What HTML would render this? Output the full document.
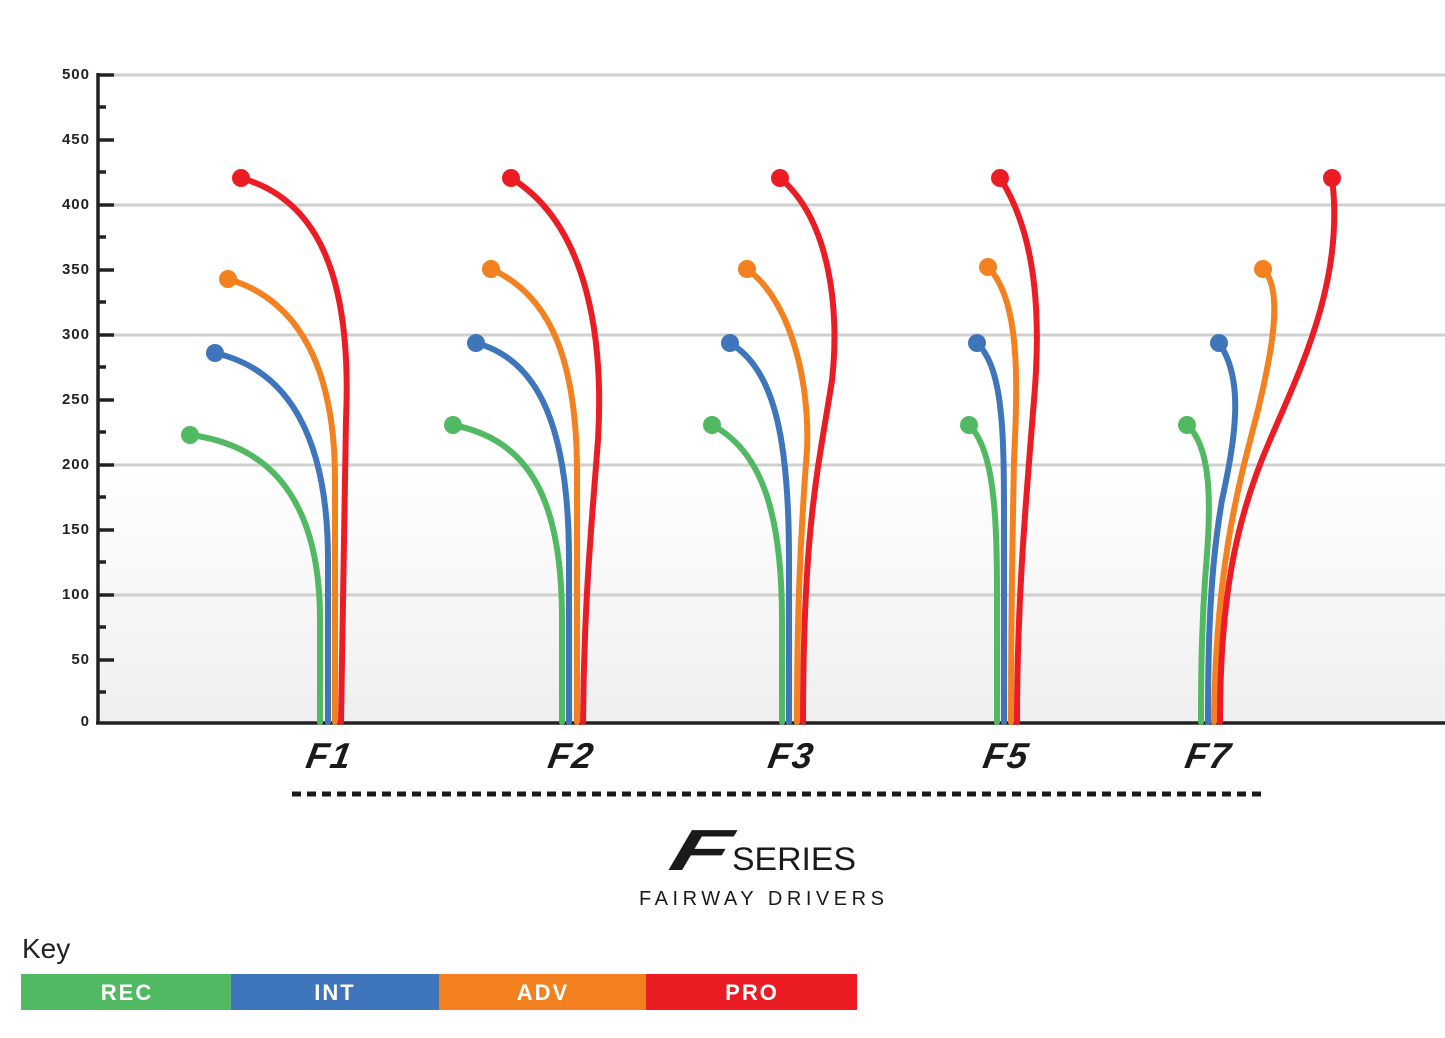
<!DOCTYPE html>
<html><head><style>
body{margin:0;background:#fff;}
svg{display:block;font-family:"Liberation Sans",sans-serif;}
</style></head><body>
<svg width="1445" height="1038" viewBox="0 0 1445 1038">
<defs><linearGradient id="bg" x1="0" y1="0" x2="0" y2="1">
<stop offset="0" stop-color="#fff"/><stop offset="0.6" stop-color="#fff"/><stop offset="1" stop-color="#efefef"/></linearGradient></defs>
<rect x="100" y="75" width="1345" height="647" fill="url(#bg)"/>
<g stroke="#cfcfcf" stroke-width="3">
<line x1="113" y1="75" x2="1445" y2="75"/><line x1="113" y1="205" x2="1445" y2="205"/>
<line x1="113" y1="335" x2="1445" y2="335"/><line x1="113" y1="465" x2="1445" y2="465"/>
<line x1="113" y1="595" x2="1445" y2="595"/></g>
<g stroke="#222" stroke-width="3.5">
<line x1="98" y1="73" x2="98" y2="724"/><line x1="96" y1="723" x2="1445" y2="723"/>
<line x1="98" y1="75" x2="114" y2="75"/><line x1="98" y1="140" x2="114" y2="140"/><line x1="98" y1="205" x2="114" y2="205"/><line x1="98" y1="270" x2="114" y2="270"/><line x1="98" y1="335" x2="114" y2="335"/><line x1="98" y1="400" x2="114" y2="400"/><line x1="98" y1="465" x2="114" y2="465"/><line x1="98" y1="530" x2="114" y2="530"/><line x1="98" y1="595" x2="114" y2="595"/><line x1="98" y1="660" x2="114" y2="660"/>
<line x1="98" y1="107" x2="106" y2="107"/><line x1="98" y1="172" x2="106" y2="172"/><line x1="98" y1="237" x2="106" y2="237"/><line x1="98" y1="302" x2="106" y2="302"/><line x1="98" y1="367" x2="106" y2="367"/><line x1="98" y1="432" x2="106" y2="432"/><line x1="98" y1="497" x2="106" y2="497"/><line x1="98" y1="562" x2="106" y2="562"/><line x1="98" y1="627" x2="106" y2="627"/><line x1="98" y1="692" x2="106" y2="692"/>
</g>
<g font-size="15" font-weight="bold" fill="#222" text-anchor="end" letter-spacing="1">
<text x="90" y="79">500</text><text x="90" y="144">450</text><text x="90" y="209">400</text><text x="90" y="274">350</text><text x="90" y="339">300</text><text x="90" y="404">250</text><text x="90" y="469">200</text><text x="90" y="534">150</text><text x="90" y="599">100</text><text x="90" y="664">50</text><text x="90" y="726">0</text></g>
<g fill="none" stroke-width="6" stroke-linecap="round">
<path stroke="#52b963" d="M190,435 C270,445 320,500 320,620 L320,722"/>
<path stroke="#3f75ba" d="M215,353 C290,370 328,440 328,560 L328,722"/>
<path stroke="#f38120" d="M228,279 C300,300 335,370 335,480 L335,722"/>
<path stroke="#ec1c24" d="M241,178 C320,200 352,280 346,420 L341,722"/>
<path stroke="#52b963" d="M453,425 C530,440 562,500 562,620 L562,722"/>
<path stroke="#3f75ba" d="M476,343 C540,360 569,430 569,560 L569,722"/>
<path stroke="#f38120" d="M491,269 C550,295 578,360 577,480 L577,722"/>
<path stroke="#ec1c24" d="M511,178 C580,220 605,320 598,440 C592,520 584,600 583,722"/>
<path stroke="#52b963" d="M712,425 C760,450 782,510 782,620 L782,722"/>
<path stroke="#3f75ba" d="M730,343 C775,370 789,440 789,560 L789,722"/>
<path stroke="#f38120" d="M747,269 C790,300 810,380 807,450 C800,540 797,620 797,722"/>
<path stroke="#ec1c24" d="M780,178 C830,220 840,310 832,380 C820,460 803,520 803,722"/>
<path stroke="#52b963" d="M969,425 C995,450 997,520 997,600 L997,722"/>
<path stroke="#3f75ba" d="M977,343 C1005,370 1004,440 1004,540 L1004,722"/>
<path stroke="#f38120" d="M988,267 C1020,300 1018,380 1014,460 C1012,560 1011,640 1011,722"/>
<path stroke="#ec1c24" d="M1000,178 C1040,240 1040,330 1034,400 C1026,500 1017,600 1017,722"/>
<path stroke="#52b963" d="M1187,425 C1215,450 1210,520 1205,580 C1201,640 1201,690 1201,722"/>
<path stroke="#3f75ba" d="M1219,343 C1245,380 1235,440 1222,500 C1210,570 1208,640 1208,722"/>
<path stroke="#f38120" d="M1263,269 C1285,290 1270,360 1258,410 C1240,480 1216,560 1214,722"/>
<path stroke="#ec1c24" d="M1332,178 C1345,280 1300,370 1270,440 C1235,520 1220,600 1220,722"/>
</g>
<g>
<circle cx="190" cy="435" r="9" fill="#52b963"/><circle cx="215" cy="353" r="9" fill="#3f75ba"/><circle cx="228" cy="279" r="9" fill="#f38120"/><circle cx="241" cy="178" r="9" fill="#ec1c24"/>
<circle cx="453" cy="425" r="9" fill="#52b963"/><circle cx="476" cy="343" r="9" fill="#3f75ba"/><circle cx="491" cy="269" r="9" fill="#f38120"/><circle cx="511" cy="178" r="9" fill="#ec1c24"/>
<circle cx="712" cy="425" r="9" fill="#52b963"/><circle cx="730" cy="343" r="9" fill="#3f75ba"/><circle cx="747" cy="269" r="9" fill="#f38120"/><circle cx="780" cy="178" r="9" fill="#ec1c24"/>
<circle cx="969" cy="425" r="9" fill="#52b963"/><circle cx="977" cy="343" r="9" fill="#3f75ba"/><circle cx="988" cy="267" r="9" fill="#f38120"/><circle cx="1000" cy="178" r="9" fill="#ec1c24"/>
<circle cx="1187" cy="425" r="9" fill="#52b963"/><circle cx="1219" cy="343" r="9" fill="#3f75ba"/><circle cx="1263" cy="269" r="9" fill="#f38120"/><circle cx="1332" cy="178" r="9" fill="#ec1c24"/>
</g>
<g font-size="36" font-weight="bold" font-style="italic" fill="#1a1a1a" text-anchor="middle" letter-spacing="2">
<text x="328" y="768" transform="skewX(-10) translate(135,0)">F1</text>
<text x="570" y="768" transform="skewX(-10) translate(135,0)">F2</text>
<text x="790" y="768" transform="skewX(-10) translate(135,0)">F3</text>
<text x="1005" y="768" transform="skewX(-10) translate(135,0)">F5</text>
<text x="1207" y="768" transform="skewX(-10) translate(135,0)">F7</text>
</g>
<line x1="292" y1="794" x2="1263" y2="794" stroke="#1a1a1a" stroke-width="5" stroke-dasharray="9,6"/>
<text x="696" y="870" font-size="58" font-weight="bold" font-style="italic" fill="#1a1a1a" text-anchor="middle" textLength="58" lengthAdjust="spacingAndGlyphs" transform="skewX(-15) translate(233,0)">F</text>
<text x="732" y="870" font-size="32" fill="#1a1a1a" textLength="124" lengthAdjust="spacingAndGlyphs">SERIES</text>
<text x="639" y="905" font-size="20" fill="#1a1a1a" textLength="245" lengthAdjust="spacing">FAIRWAY DRIVERS</text>
<text x="22" y="958" font-size="28" fill="#222">Key</text>
<rect x="21" y="974" width="211" height="36" fill="#52b963"/>
<rect x="231" y="974" width="209" height="36" fill="#3f75ba"/>
<rect x="439" y="974" width="208" height="36" fill="#f38120"/>
<rect x="646" y="974" width="211" height="36" fill="#ec1c24"/>
<g font-size="22" font-weight="bold" fill="#fff" text-anchor="middle" letter-spacing="2">
<text x="127" y="1000">REC</text><text x="335" y="1000">INT</text><text x="543" y="1000">ADV</text><text x="752" y="1000">PRO</text></g>
</svg>
</body></html>
